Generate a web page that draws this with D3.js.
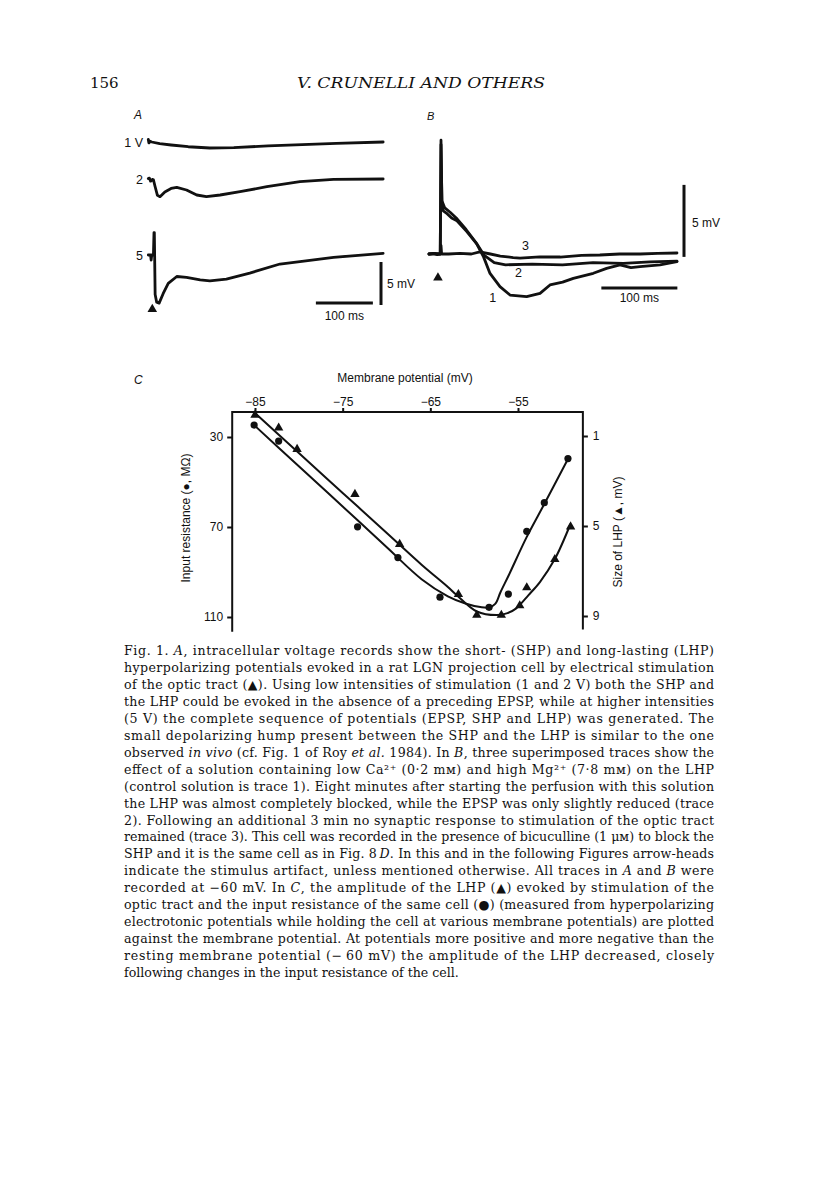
<!DOCTYPE html>
<html><head><meta charset="utf-8">
<script src="https://cdn.jsdelivr.net/npm/d3@7/dist/d3.min.js"></script>
<style>body{margin:0;background:#fff}svg{display:block}</style>
</head><body>
<svg id="fig" width="816" height="1181"></svg>
<script>
// ---------- DATA ----------
// Panel A traces: [time ms from stimulus, mV relative to baseline]
const traceA1 = [[-10,0.3],[-9,-0.1],[-7,0.1],[-4,0],[10,-0.2],[30,-0.35],[60,-0.55],[98,-0.7],[140,-0.65],[200,-0.45],[260,-0.3],[320,-0.15],[402,0]];
const traceA2 = [[-10,0.05],[-8,0.1],[-6,-0.25],[-3,-0.05],[-1,-0.1],[2,-0.9],[6,-1.9],[10.5,-2.05],[19,-1.5],[30,-1.1],[40,-0.97],[57,-1.28],[75,-1.86],[92,-2.05],[116,-1.86],[151,-1.48],[198,-0.9],[256,-0.31],[315,-0.05],[402,0]];
const traceA5 = [[-10,0],[-6,0],[-5,-0.6],[-4,0],[-1,0],[0,2.6],[0.6,2.6],[2,-4.6],[4.7,-5.5],[9,-5.6],[16,-4.5],[25,-3.3],[40,-2.5],[57,-2.6],[81,-2.9],[98,-3.0],[127,-2.8],[168,-2.1],[221,-1.05],[256,-0.78],[315,-0.27],[402,0.2]];
const labelsA = ["1 V","2","5"];
// Panel B traces
const traceB1 = [[-15.8,0],[-8,0.05],[-1,0],[0,7.9],[1.2,3.5],[3,3.0],[8,2.8],[14,2.5],[21,2.3],[34,1.55],[47,0.7],[56,-0.2],[64.5,-1.35],[77.6,-2.27],[90.8,-2.85],[112.7,-2.96],[130.3,-2.73],[143.4,-2.15],[160,-1.95],[174.1,-1.69],[200.4,-1.34],[217.9,-1.0],[235.5,-0.76],[250,-0.95],[261.8,-0.88],[288.2,-0.76],[310.5,-0.53]];
const traceB2 = [[-15.8,0],[-1,0],[0,7.6],[1.2,3.7],[5,3.2],[12,2.9],[20,2.5],[33,1.7],[46,0.8],[57,-0.1],[70,-0.6],[85,-0.75],[120,-0.7],[160,-0.75],[200,-0.6],[240,-0.65],[275,-0.55],[310.5,-0.5]];
const traceB3 = [[-15.8,0],[-10,0.05],[-5,-0.05],[-1,0],[0,0.6],[0.8,0],[10,0],[25,0.05],[40,0],[51,0.14],[65,0],[78,-0.14],[95,-0.25],[104,-0.28],[130,-0.2],[157,-0.21],[185,-0.1],[209,-0.07],[235,0],[262,0],[285,0.05],[310.5,0.07]];
const labelsB = ["1","2","3"];
// Panel C
const circVm  = [-85.1,-82.3,-73.3,-68.7,-63.9,-58.3,-56.1,-54.0,-52.0,-49.3];
const circRes = [24.7,31.8,69.9,83.6,101.2,105.7,99.8,71.9,59.2,39.6];
const triVm   = [-85,-82.3,-80.2,-73.6,-68.5,-61.8,-59.7,-56.9,-54.8,-54.0,-50.8,-49.0];
const triLHP  = [0.07,0.64,1.59,3.59,5.81,8.04,8.96,8.96,8.54,7.74,6.48,5.03];
const resFit  = [[-85.3,24.0],[-80,43.0],[-75,60.9],[-70,78.9],[-66,93.2],[-63,100.8],[-61,104],[-59.3,105.6],[-58.3,105.8],[-57.6,104.2],[-57,99],[-56,91],[-54,74.4],[-52,59.8],[-49.3,39.8]];
const lhpFit  = [[-85.2,-0.09],[-80,1.76],[-75,3.53],[-70,5.30],[-66,6.72],[-63,7.71],[-62,8.07],[-59.7,8.8],[-57.4,8.96],[-56.2,8.87],[-55.2,8.66],[-53.8,8.07],[-52.5,7.49],[-50.8,6.47],[-49.0,4.9]];
const xTicks = [-85,-75,-65,-55];
const resTicks = [30,70,110];
const lhpTicks = [1,5,9];

const caption = [
"Fig. 1. _A_, intracellular voltage records show the short- (SHP) and long-lasting (LHP)",
"hyperpolarizing potentials evoked in a rat LGN projection cell by electrical stimulation",
"of the optic tract (\u25B2). Using low intensities of stimulation (1 and 2 V) both the SHP and",
"the LHP could be evoked in the absence of a preceding EPSP, while at higher intensities",
"(5 V) the complete sequence of potentials (EPSP, SHP and LHP) was generated. The",
"small depolarizing hump present between the SHP and the LHP is similar to the one",
"observed _in vivo_ (cf. Fig. 1 of Roy _et al._ 1984). In _B_, three superimposed traces show the",
"effect of a solution containing low Ca\u00B2\u207A (0\u00B72 m\u1D0D) and high Mg\u00B2\u207A (7\u00B78 m\u1D0D) on the LHP",
"(control solution is trace 1). Eight minutes after starting the perfusion with this solution",
"the LHP was almost completely blocked, while the EPSP was only slightly reduced (trace",
"2). Following an additional 3 min no synaptic response to stimulation of the optic tract",
"remained (trace 3). This cell was recorded in the presence of bicuculline (1 \u03BC\u1D0D) to block the",
"SHP and it is the same cell as in Fig. 8\u2009_D_. In this and in the following Figures arrow-heads",
"indicate the stimulus artifact, unless mentioned otherwise. All traces in _A_ and _B_ were",
"recorded at \u221260 mV. In _C_, the amplitude of the LHP (\u25B2) evoked by stimulation of the",
"optic tract and the input resistance of the same cell (\u25CF) (measured from hyperpolarizing",
"electrotonic potentials while holding the cell at various membrane potentials) are plotted",
"against the membrane potential. At potentials more positive and more negative than the",
"resting membrane potential (\u2212\u200960 mV) the amplitude of the LHP decreased, closely",
"following changes in the input resistance of the cell."
];

// ---------- DRAW ----------
const svg = d3.select("#fig");
const SANS = "'Liberation Sans', Arial, sans-serif";
const SERIF = "'DejaVu Serif', serif";
const ink = "#111";

// Header
svg.append("text").attr("x",90).attr("y",88).attr("font-family",SERIF).attr("font-size",15).attr("fill",ink).text("156");
svg.append("text").attr("x",297).attr("y",88).attr("font-family",SERIF).attr("font-style","italic").attr("font-size",15)
  .attr("textLength",248).attr("lengthAdjust","spacingAndGlyphs").attr("fill",ink).text("V. CRUNELLI AND OTHERS");

const line = d3.line().curve(d3.curveLinear);
function traceStroke(sel){ sel.attr("fill","none").attr("stroke",ink).attr("stroke-width",2.8).attr("stroke-linejoin","round").attr("stroke-linecap","round"); }
const tri = d3.symbol().type(d3.symbolTriangle);

// ---- Panel A ----
const xA = d3.scaleLinear().domain([0,100]).range([154,211]);
const yA = d3.scaleLinear().domain([0,5]).range([0,-43]);
const baseA = [142,179,255];
const gA = svg.append("g");
gA.append("text").attr("x",134).attr("y",119).attr("font-family",SANS).attr("font-style","italic").attr("font-size",12).attr("fill",ink).text("A");
[traceA1,traceA2,traceA5].forEach((tr,i)=>{
  const g = gA.append("g").attr("transform",`translate(0,${baseA[i]})`);
  g.append("path").attr("d", line(tr.map(d=>[xA(d[0]),yA(d[1])]))).call(traceStroke);
  g.append("text").attr("x",143).attr("y",4.5).attr("text-anchor","end").attr("font-family",SANS).attr("font-size",12.5).attr("fill",ink).text(labelsA[i]);
});
// stimulus marker A
gA.append("path").attr("transform",`translate(${xA(-3)},${baseA[2]+yA(-6.3)})`).attr("d",tri.size(40)()).attr("fill",ink);
// scale bars A
gA.append("line").attr("x1",xA(284)).attr("x2",xA(384)).attr("y1",303).attr("y2",303).attr("stroke",ink).attr("stroke-width",3);
gA.append("line").attr("x1",381).attr("x2",381).attr("y1",305).attr("y2",305+yA(5)).attr("stroke",ink).attr("stroke-width",3);
gA.append("text").attr("x",(xA(284)+xA(384))/2).attr("y",320).attr("text-anchor","middle").attr("font-family",SANS).attr("font-size",12).attr("fill",ink).text("100 ms");
gA.append("text").attr("x",387).attr("y",288).attr("font-family",SANS).attr("font-size",12).attr("fill",ink).text("5 mV");

// ---- Panel B ----
const xB = d3.scaleLinear().domain([0,100]).range([441,517]);
const yB = d3.scaleLinear().domain([0,5]).range([254,182]);
const gB = svg.append("g");
gB.append("text").attr("x",427).attr("y",120).attr("font-family",SANS).attr("font-style","italic").attr("font-size",11).attr("fill",ink).text("B");
[traceB3,traceB2,traceB1].forEach(tr=>{
  gB.append("path").attr("d", line(tr.map(d=>[xB(d[0]),yB(d[1])]))).call(traceStroke);
});
const bLabelPos = [[68,-3.35],[102,-1.6],[111,0.25]];
labelsB.forEach((t,i)=>{
  gB.append("text").attr("x",xB(bLabelPos[i][0])).attr("y",yB(bLabelPos[i][1])).attr("text-anchor","middle").attr("font-family",SANS).attr("font-size",12.5).attr("fill",ink).text(t);
});
gB.append("path").attr("transform",`translate(${xB(-4)},${yB(-1.65)})`).attr("d",tri.size(40)()).attr("fill",ink);
gB.append("line").attr("x1",xB(211)).attr("x2",xB(311)).attr("y1",288).attr("y2",288).attr("stroke",ink).attr("stroke-width",3);
gB.append("line").attr("x1",684).attr("x2",684).attr("y1",yB(-0.2)).attr("y2",yB(4.8)).attr("stroke",ink).attr("stroke-width",3);
gB.append("text").attr("x",(xB(211)+xB(311))/2).attr("y",302).attr("text-anchor","middle").attr("font-family",SANS).attr("font-size",12).attr("fill",ink).text("100 ms");
gB.append("text").attr("x",692).attr("y",227).attr("font-family",SANS).attr("font-size",12).attr("fill",ink).text("5 mV");

// ---- Panel C ----
const xC = d3.scaleLinear().domain([-85,-55]).range([255,518]);
const yR = d3.scaleLinear().domain([30,110]).range([437,617]);
const yL = d3.scaleLinear().domain([1,9]).range([436,616]);
const boxL = xC(-87.6), boxR = xC(-47.6), boxT = yR(18.9), boxB = yR(116.5);
const gC = svg.append("g");
gC.append("text").attr("x",134).attr("y",384).attr("font-family",SANS).attr("font-style","italic").attr("font-size",12).attr("fill",ink).text("C");
gC.append("text").attr("x",405).attr("y",382).attr("text-anchor","middle").attr("font-family",SANS).attr("font-size",12).attr("fill",ink).text("Membrane potential (mV)");
gC.append("path").attr("d",`M${boxL},${boxB}V${boxT}H${boxR}V${yR(115.5)}`).attr("fill","none").attr("stroke",ink).attr("stroke-width",2);

const axTop = gC.append("g").attr("transform",`translate(0,${boxT})`)
  .call(d3.axisTop(xC).tickValues(xTicks).tickSize(4).tickPadding(2).tickFormat(d=>"\u2212"+Math.abs(d)));
const axLeft = gC.append("g").attr("transform",`translate(${boxL},0)`)
  .call(d3.axisLeft(yR).tickValues(resTicks).tickSize(5).tickPadding(4));
const axRight = gC.append("g").attr("transform",`translate(${boxR},0)`)
  .call(d3.axisRight(yL).tickValues(lhpTicks).tickSize(5).tickPadding(5));
[axTop,axLeft,axRight].forEach(a=>{
  a.select(".domain").remove();
  a.selectAll(".tick line").attr("stroke",ink).attr("stroke-width",2);
  a.selectAll(".tick text").attr("font-family",SANS).attr("font-size",12).attr("fill",ink);
});

gC.append("text").attr("transform","translate(190,518) rotate(-90)").attr("text-anchor","middle").attr("font-family",SANS).attr("font-size",12).attr("fill",ink).text("Input resistance (\u25CF, M\u03A9)");
gC.append("text").attr("transform","translate(622,532) rotate(-90)").attr("text-anchor","middle").attr("font-family",SANS).attr("font-size",12).attr("fill",ink).text("Size of LHP (\u25B2, mV)");

const smooth = d3.line().curve(d3.curveCatmullRom.alpha(0.5));
gC.append("path").attr("d",smooth(resFit.map(d=>[xC(d[0]),yR(d[1])]))).attr("fill","none").attr("stroke",ink).attr("stroke-width",2);
gC.append("path").attr("d",smooth(lhpFit.map(d=>[xC(d[0]),yL(d[1])]))).attr("fill","none").attr("stroke",ink).attr("stroke-width",2);
gC.selectAll("circle.pt").data(circVm.map((v,i)=>[v,circRes[i]])).enter().append("circle")
  .attr("cx",d=>xC(d[0])).attr("cy",d=>yR(d[1])).attr("r",3.6).attr("fill",ink);
gC.selectAll("path.tri").data(triVm.map((v,i)=>[v,triLHP[i]])).enter().append("path")
  .attr("transform",d=>`translate(${xC(d[0])},${yL(d[1])})`).attr("d",tri.size(38)()).attr("fill",ink);

// ---- Caption ----
const capL = 124, capR = 714, capY0 = 655, capDY = 16.95;
caption.forEach((ln,i)=>{
  const t = svg.append("text").attr("x",capL).attr("y",capY0+i*capDY).attr("font-family",SERIF).attr("font-size",12.6).attr("fill",ink)
    .attr("xml:space","preserve");
  if(i < caption.length-1) t.attr("textLength",capR-capL).attr("lengthAdjust","spacing");
  ln.split("_").forEach((seg,k)=>{
    if(!seg) return;
    t.append("tspan").attr("font-style", k%2 ? "italic" : "normal").text(seg);
  });
});
</script>
</body></html>
